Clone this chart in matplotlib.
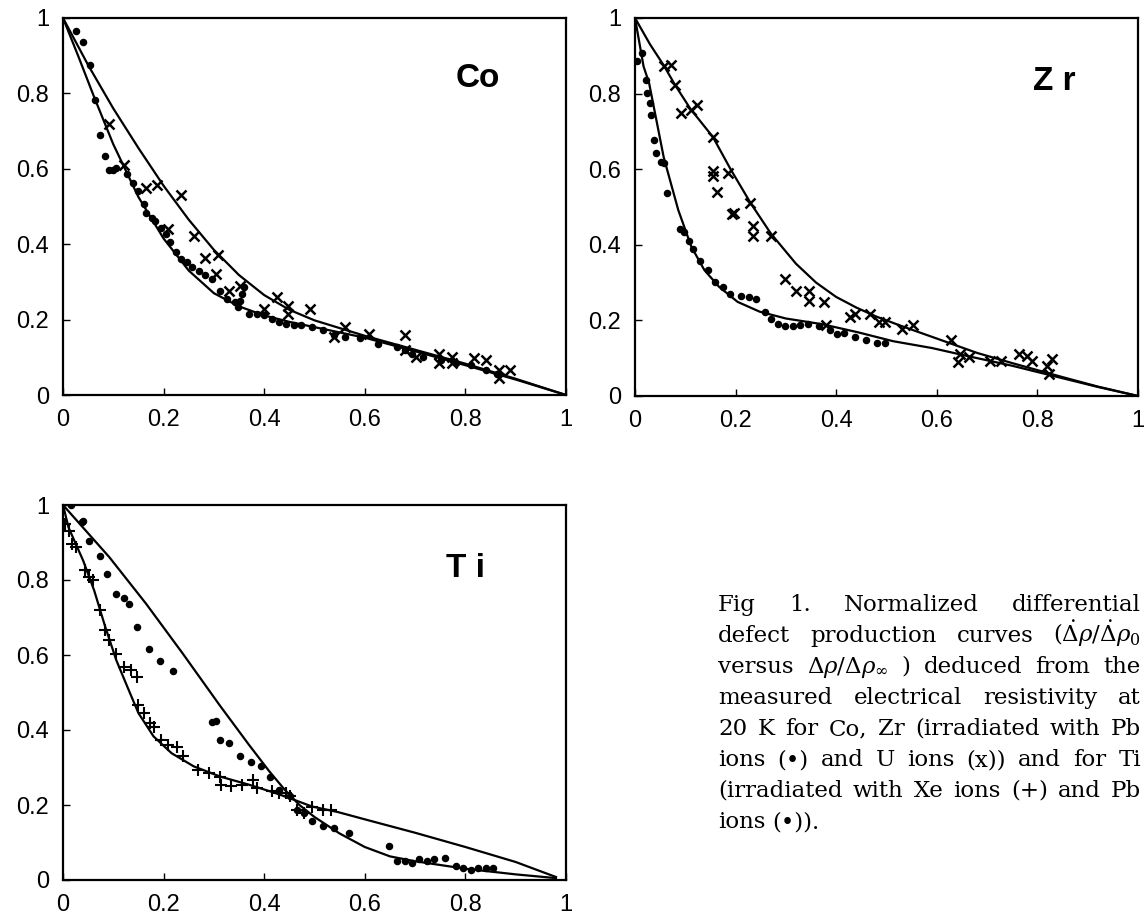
import matplotlib
matplotlib.use('Agg')
import matplotlib.pyplot as plt
from matplotlib.ticker import FixedLocator, FixedFormatter

# ---------------- data ----------------
ticks = [0, 0.2, 0.4, 0.6, 0.8, 1]
tick_labels = ['0', '0.2', '0.4', '0.6', '0.8', '1']

# Co
co_upper_x = [0, 0.05, 0.1, 0.15, 0.2, 0.25, 0.3, 0.35, 0.4, 0.45, 0.5, 0.6, 0.7, 0.8, 0.9, 1.0]
co_upper_y = [1, 0.875, 0.76, 0.655, 0.555, 0.465, 0.385, 0.318, 0.265, 0.226, 0.198, 0.157, 0.12, 0.083, 0.043, 0.0]
co_lower_x = [0, 0.03, 0.062, 0.1, 0.15, 0.2, 0.25, 0.3, 0.35, 0.4, 0.45, 0.5, 0.55, 0.6, 0.7, 0.8, 0.9, 1.0]
co_lower_y = [1, 0.9, 0.79, 0.665, 0.525, 0.415, 0.33, 0.27, 0.235, 0.211, 0.194, 0.18, 0.166, 0.152, 0.116, 0.079, 0.041, 0.0]
co_pb_x = [0.026, 0.040, 0.054, 0.064, 0.073, 0.084, 0.092, 0.099, 0.106, 0.128, 0.139, 0.15, 0.161, 0.165,
           0.176, 0.183, 0.194, 0.205, 0.213, 0.224, 0.235, 0.246, 0.257, 0.271, 0.282, 0.297, 0.312, 0.326,
           0.341, 0.348, 0.352, 0.356, 0.36, 0.37, 0.385, 0.4, 0.415, 0.429, 0.444, 0.459, 0.473, 0.495,
           0.517, 0.539, 0.561, 0.59, 0.627, 0.664, 0.679, 0.693, 0.715, 0.752, 0.781, 0.811, 0.84, 0.862]
co_pb_y = [0.965, 0.937, 0.875, 0.783, 0.69, 0.633, 0.598, 0.598, 0.602, 0.585, 0.563, 0.541, 0.506, 0.484,
           0.47, 0.462, 0.444, 0.427, 0.405, 0.378, 0.361, 0.352, 0.339, 0.33, 0.317, 0.308, 0.277, 0.255,
           0.246, 0.233, 0.25, 0.268, 0.286, 0.215, 0.215, 0.211, 0.202, 0.193, 0.189, 0.185, 0.185, 0.18,
           0.172, 0.158, 0.154, 0.15, 0.136, 0.128, 0.119, 0.11, 0.101, 0.092, 0.084, 0.079, 0.066, 0.057]
co_u_x = [0.092, 0.121, 0.165, 0.187, 0.235, 0.209, 0.26, 0.282, 0.308, 0.305, 0.33, 0.352, 0.4, 0.425,
          0.448, 0.448, 0.492, 0.539, 0.561, 0.609, 0.679, 0.679, 0.701, 0.748, 0.748, 0.774, 0.774, 0.818,
          0.84, 0.866, 0.866, 0.888]
co_u_y = [0.719, 0.611, 0.55, 0.558, 0.53, 0.44, 0.422, 0.363, 0.372, 0.321, 0.277, 0.29, 0.229, 0.259,
          0.237, 0.215, 0.229, 0.154, 0.18, 0.163, 0.158, 0.119, 0.101, 0.11, 0.084, 0.101, 0.084, 0.097,
          0.092, 0.066, 0.044, 0.066]

# Zr
zr_upper_x = [0, 0.03, 0.057, 0.08, 0.11, 0.155, 0.19, 0.23, 0.27, 0.32, 0.36, 0.4, 0.44, 0.48, 0.53, 0.6, 0.68, 0.75, 0.85, 0.92, 1.0]
zr_upper_y = [1, 0.93, 0.875, 0.822, 0.76, 0.685, 0.6, 0.51, 0.43, 0.35, 0.3, 0.262, 0.234, 0.21, 0.185, 0.152, 0.114, 0.087, 0.05, 0.025, 0.0]
zr_lower_x = [0, 0.017, 0.028, 0.057, 0.086, 0.112, 0.138, 0.167, 0.204, 0.248, 0.3, 0.372, 0.445, 0.513, 0.59, 0.66, 0.75, 0.85, 0.92, 1.0]
zr_lower_y = [1, 0.872, 0.828, 0.632, 0.492, 0.395, 0.333, 0.289, 0.249, 0.223, 0.205, 0.19, 0.168, 0.145, 0.127, 0.106, 0.08, 0.047, 0.024, 0.0]
zr_pb_x = [0.004, 0.013, 0.021, 0.024, 0.029, 0.032, 0.037, 0.041, 0.051, 0.057, 0.064, 0.09, 0.097, 0.108,
           0.116, 0.13, 0.145, 0.16, 0.174, 0.189, 0.211, 0.226, 0.24, 0.259, 0.27, 0.284, 0.299, 0.314,
           0.328, 0.343, 0.365, 0.387, 0.401, 0.416, 0.438, 0.46, 0.482, 0.497]
zr_pb_y = [0.885, 0.907, 0.837, 0.802, 0.775, 0.744, 0.677, 0.642, 0.62, 0.616, 0.536, 0.443, 0.434, 0.411,
           0.39, 0.358, 0.333, 0.302, 0.289, 0.271, 0.265, 0.261, 0.256, 0.221, 0.203, 0.19, 0.186, 0.186,
           0.188, 0.19, 0.186, 0.174, 0.163, 0.167, 0.156, 0.149, 0.141, 0.141]
zr_u_x = [0.057, 0.072, 0.079, 0.092, 0.112, 0.123, 0.156, 0.156, 0.156, 0.163, 0.185, 0.193, 0.196, 0.229,
          0.235, 0.235, 0.271, 0.299, 0.321, 0.346, 0.346, 0.376, 0.379, 0.427, 0.438, 0.467, 0.486, 0.497,
          0.53, 0.552, 0.629, 0.643, 0.647, 0.665, 0.705, 0.727, 0.764, 0.779, 0.79, 0.819, 0.83, 0.823]
zr_u_y = [0.872, 0.876, 0.823, 0.748, 0.757, 0.77, 0.686, 0.594, 0.581, 0.54, 0.589, 0.481, 0.485, 0.51,
          0.451, 0.424, 0.424, 0.309, 0.278, 0.278, 0.251, 0.249, 0.187, 0.208, 0.216, 0.216, 0.196, 0.196,
          0.178, 0.187, 0.148, 0.09, 0.112, 0.103, 0.093, 0.093, 0.11, 0.106, 0.093, 0.08, 0.099, 0.059]

# Ti
ti_pbcurve_x = [0, 0.092, 0.165, 0.238, 0.312, 0.37, 0.41, 0.44, 0.47, 0.5, 0.55, 0.6, 0.65, 0.7, 0.8, 0.9, 0.98]
ti_pbcurve_y = [1, 0.861, 0.737, 0.604, 0.465, 0.36, 0.29, 0.242, 0.2, 0.168, 0.124, 0.088, 0.063, 0.05, 0.03, 0.015, 0.005]
ti_xecurve_x = [0, 0.011, 0.04, 0.062, 0.084, 0.106, 0.128, 0.15, 0.18, 0.216, 0.26, 0.312, 0.37, 0.422, 0.459, 0.495, 0.547, 0.605, 0.7, 0.8, 0.9, 0.98]
ti_xecurve_y = [1, 0.94, 0.852, 0.772, 0.675, 0.586, 0.515, 0.445, 0.383, 0.338, 0.303, 0.276, 0.254, 0.232, 0.214, 0.196, 0.181, 0.16, 0.126, 0.088, 0.048, 0.008]
ti_pb_x = [0.015, 0.037, 0.04, 0.051, 0.073, 0.088, 0.105, 0.121, 0.132, 0.147, 0.171, 0.193, 0.218, 0.297,
           0.305, 0.312, 0.33, 0.352, 0.374, 0.393, 0.411, 0.429, 0.451, 0.466, 0.48, 0.495, 0.517, 0.539,
           0.569, 0.649, 0.664, 0.679, 0.693, 0.708, 0.723, 0.737, 0.759, 0.781, 0.796, 0.811, 0.825, 0.84, 0.855]
ti_pb_y = [1.0, 0.954, 0.958, 0.905, 0.865, 0.817, 0.763, 0.752, 0.737, 0.675, 0.617, 0.584, 0.557, 0.422,
           0.425, 0.373, 0.365, 0.33, 0.316, 0.303, 0.276, 0.241, 0.223, 0.188, 0.179, 0.157, 0.143, 0.139,
           0.126, 0.09, 0.05, 0.05, 0.046, 0.055, 0.05, 0.055, 0.059, 0.037, 0.033, 0.028, 0.033, 0.033, 0.033]
ti_xe_x = [0.004, 0.011, 0.018, 0.026, 0.044, 0.051, 0.059, 0.073, 0.084, 0.092, 0.106, 0.121, 0.136, 0.147,
           0.15, 0.161, 0.172, 0.18, 0.194, 0.209, 0.227, 0.238, 0.268, 0.29, 0.312, 0.315, 0.334, 0.356,
           0.378, 0.385, 0.415, 0.429, 0.444, 0.451, 0.466, 0.48, 0.495, 0.517, 0.532]
ti_xe_y = [0.95, 0.932, 0.896, 0.888, 0.826, 0.808, 0.799, 0.719, 0.666, 0.639, 0.603, 0.568, 0.559, 0.542,
           0.467, 0.445, 0.418, 0.409, 0.374, 0.36, 0.356, 0.33, 0.294, 0.285, 0.276, 0.254, 0.25, 0.254,
           0.268, 0.246, 0.237, 0.232, 0.232, 0.223, 0.188, 0.179, 0.196, 0.188, 0.188]

panel_names = ['Co', 'Z r', 'T i']

caption_lines = [
    "Fig 1. Normalized differential",
    r"defect production curves $(\dot{\mathit{\Delta}}\rho/\dot{\mathit{\Delta}}\rho_{0}$",
    r"versus $\mathit{\Delta}\rho/\mathit{\Delta}\rho_{\infty}$ ) deduced from the",
    "measured electrical resistivity at",
    "20 K for Co, Zr (irradiated with Pb",
    "ions (\u2022) and U ions (x)) and for Ti",
    "(irradiated with Xe ions (+) and Pb",
    "ions (\u2022)).",
]

# ---------------- figure ----------------
FW, FH = 1145, 924
fig = plt.figure(figsize=(FW / 100, FH / 100), dpi=100)
plt.rcParams['mathtext.fontset'] = 'dejavuserif'

def make_ax(l, t, r, b):
    return fig.add_axes([l / FW, 1 - b / FH, (r - l) / FW, (b - t) / FH])

ax_co = make_ax(63, 18, 566, 395)
ax_zr = make_ax(635, 18, 1138, 396)
ax_ti = make_ax(63, 505, 566, 880)

lw = 1.6
for ax in (ax_co, ax_zr, ax_ti):
    ax.set_xlim(0, 1)
    ax.set_ylim(0, 1)
    for s in ax.spines.values():
        s.set_linewidth(1.6)
    ax.xaxis.set_major_locator(FixedLocator(ticks))
    ax.xaxis.set_major_formatter(FixedFormatter(tick_labels))
    ax.yaxis.set_major_locator(FixedLocator(ticks))
    ax.yaxis.set_major_formatter(FixedFormatter(tick_labels))
    ax.tick_params(direction='in', length=5, width=1.0, labelsize=17, pad=10,
                   top=False, right=False)
    for lab in ax.get_xticklabels() + ax.get_yticklabels():
        lab.set_fontfamily('Liberation Sans')

dot_kw = dict(linestyle='none', marker='o', ms=4.4, color='black', mec='black')
x_kw = dict(linestyle='none', marker='x', ms=7, mew=1.8, color='black')
p_kw = dict(linestyle='none', marker='+', ms=8, mew=1.5, color='black')
line_kw = dict(color='black', lw=lw)

# Co
ax_co.plot(co_upper_x, co_upper_y, **line_kw)
ax_co.plot(co_lower_x, co_lower_y, **line_kw)
ax_co.plot(co_pb_x, co_pb_y, **dot_kw)
ax_co.plot(co_u_x, co_u_y, **x_kw)

# Zr
ax_zr.plot(zr_upper_x, zr_upper_y, **line_kw)
ax_zr.plot(zr_lower_x, zr_lower_y, **line_kw)
ax_zr.plot(zr_pb_x, zr_pb_y, **dot_kw)
ax_zr.plot(zr_u_x, zr_u_y, **x_kw)

# Ti
ax_ti.plot(ti_pbcurve_x, ti_pbcurve_y, **line_kw)
ax_ti.plot(ti_xecurve_x, ti_xecurve_y, **line_kw)
ax_ti.plot(ti_pb_x, ti_pb_y, **dot_kw)
ax_ti.plot(ti_xe_x, ti_xe_y, **p_kw)

label_pos = [(0.825, 0.84), (0.834, 0.832), (0.80, 0.83)]
for ax, name, (lx, ly) in zip((ax_co, ax_zr, ax_ti), panel_names, label_pos):
    ax.text(lx, ly, name, transform=ax.transAxes, ha='center', va='center',
            fontsize=24, fontweight='bold', family='Liberation Sans')

# ---------------- justified caption ----------------
fig.canvas.draw()
renderer = fig.canvas.get_renderer()
x0, x1 = 718, 1141
base0, dy = 611, 31
cap_kw = dict(fontsize=16.5, family='DejaVu Serif', va='baseline', ha='left')
for i, line in enumerate(caption_lines):
    words = line.split(' ')
    texts = [fig.text(0, 0, w, **cap_kw) for w in words]
    widths = [t.get_window_extent(renderer).width for t in texts]
    if i < len(caption_lines) - 1 and len(words) > 1:
        gap = (x1 - x0 - sum(widths)) / (len(words) - 1)
    else:
        gap = 7
    x = x0
    yb = base0 + i * dy
    for t, w in zip(texts, widths):
        t.set_position((x / FW, 1 - yb / FH))
        x += w + gap

fig.savefig('out.png', dpi=100)
